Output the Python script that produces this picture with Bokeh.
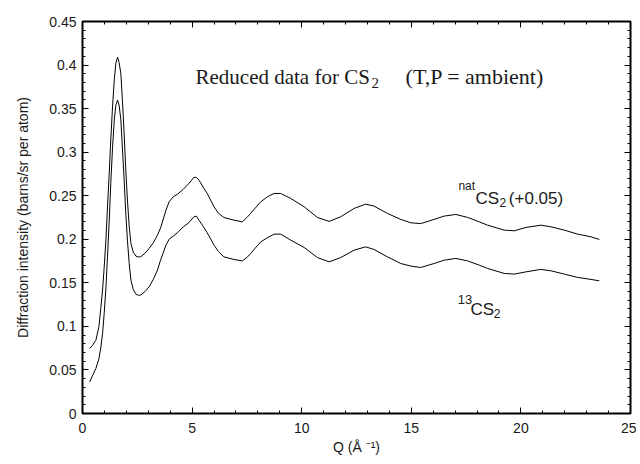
from bokeh.plotting import figure
from bokeh.models import (Range1d, SingleIntervalTicker, LinearAxis, Label,
                          CustomJSTickFormatter, CustomLabelingPolicy)
from bokeh.embed import file_html
from bokeh.resources import INLINE

# ---- data ----
q = [0.33, 0.45, 0.61, 0.75, 0.84, 0.92, 0.99, 1.07, 1.14, 1.22, 1.29, 1.37,
     1.45, 1.52, 1.60, 1.67, 1.75, 1.82, 1.90, 1.97, 2.05, 2.13, 2.21, 2.32,
     2.44, 2.55, 2.66, 2.85, 3.04, 3.23, 3.42, 3.56, 3.81, 3.95, 4.14, 4.35,
     4.60, 4.85, 5.08, 5.20, 5.31, 5.50, 5.69, 6.00, 6.20, 6.45, 6.91, 7.29,
     7.50, 7.67, 8.13, 8.45, 8.74, 9.04, 9.50, 10.11, 10.72, 11.25, 11.78,
     12.39, 12.92, 13.30, 13.91, 14.52, 14.98, 15.43, 16.04, 16.50, 17.03,
     17.57, 18.10, 18.48, 19.24, 19.70, 20.23, 20.91, 21.37, 21.98, 22.59,
     23.20, 23.58]

nat_cs2 = [0.0746, 0.078, 0.084, 0.100, 0.122, 0.143, 0.168, 0.200, 0.237,
           0.276, 0.314, 0.352, 0.383, 0.402, 0.409, 0.403, 0.390, 0.360,
           0.3215, 0.282, 0.245, 0.215, 0.195, 0.185, 0.1806, 0.1797, 0.1799,
           0.184, 0.1895, 0.196, 0.2047, 0.213, 0.2335, 0.243, 0.2488, 0.252,
           0.2575, 0.264, 0.271, 0.271, 0.268, 0.260, 0.2526, 0.2373, 0.230,
           0.225, 0.222, 0.220, 0.225, 0.2297, 0.243, 0.249, 0.2526, 0.2526,
           0.2469, 0.2373, 0.225, 0.2205, 0.2258, 0.2354, 0.2403, 0.2381,
           0.2297, 0.2228, 0.2189, 0.218, 0.2228, 0.2266, 0.2285, 0.2251,
           0.220, 0.2162, 0.2105, 0.2097, 0.2136, 0.2162, 0.2143, 0.2105,
           0.2059, 0.2028, 0.1998]

c13_cs2 = [0.0363, 0.043, 0.0517, 0.063, 0.0765, 0.093, 0.115, 0.145, 0.180,
           0.222, 0.264, 0.305, 0.337, 0.354, 0.3598, 0.354, 0.337, 0.305,
           0.268, 0.232, 0.199, 0.172, 0.153, 0.142, 0.137, 0.1357, 0.136,
           0.140, 0.1454, 0.154, 0.1646, 0.176, 0.1933, 0.200, 0.2036, 0.208,
           0.2143, 0.219, 0.2258, 0.2265, 0.222, 0.215, 0.2074, 0.1933, 0.186,
           0.1798, 0.1768, 0.1752, 0.179, 0.1837, 0.197, 0.202, 0.2059, 0.2059,
           0.199, 0.1906, 0.179, 0.1741, 0.179, 0.1875, 0.1913, 0.1883, 0.1798,
           0.1722, 0.1692, 0.1676, 0.1722, 0.176, 0.178, 0.1752, 0.1703,
           0.1665, 0.1608, 0.160, 0.1626, 0.1654, 0.1638, 0.160, 0.1562,
           0.1539, 0.1523]

x_tick_interval = 5
y_tick_interval = 0.05

SANS = "Liberation Sans"
SERIF = "Liberation Serif"
INK = "#1a1a1a"

p = figure(width=636, height=460,
           x_range=Range1d(0, 25), y_range=Range1d(0, 0.45),
           output_backend="svg", toolbar_location=None,
           min_border_left=82, min_border_right=6,
           min_border_top=21, min_border_bottom=47,
           x_axis_label="Q (Å ⁻¹)",
           y_axis_label="Diffraction intensity (barns/sr per atom)")

p.xgrid.visible = False
p.ygrid.visible = False
p.outline_line_color = "black"
p.outline_line_width = 2
p.background_fill_color = "white"
p.border_fill_color = "white"

xt = SingleIntervalTicker(interval=x_tick_interval, num_minor_ticks=5)
yt = SingleIntervalTicker(interval=y_tick_interval, num_minor_ticks=5)
yfmt = CustomJSTickFormatter(code="""
    let s = tick.toFixed(2);
    s = s.replace(/0+$/, '').replace(/\\.$/, '');
    return s;
""")
no_labels = CustomLabelingPolicy(code="""
    const n = indices.size;
    for (let i = 0; i < n; i++) { indices.unset(i); }
    return indices;
""")

def style(ax, labels=True):
    ax.axis_line_color = None
    ax.major_tick_in = 6
    ax.major_tick_out = 0
    ax.minor_tick_in = 3
    ax.minor_tick_out = 0
    ax.major_tick_line_color = "black"
    ax.minor_tick_line_color = "black"
    ax.major_tick_line_width = 1
    ax.minor_tick_line_width = 1
    if labels:
        ax.major_label_text_font = SANS
        ax.major_label_text_font_size = "14px"
        ax.major_label_text_color = INK
        ax.axis_label_text_font = SANS
        ax.axis_label_text_font_size = "14px"
        ax.axis_label_text_font_style = "normal"
        ax.axis_label_text_color = INK
    else:
        ax.major_label_text_font_size = "0px"
        ax.major_label_standoff = 0
        ax.major_label_policy = no_labels

xa = p.xaxis[0]
xa.ticker = xt
style(xa)
xa.major_label_standoff = 9
xa.axis_label_standoff = 3

ya = p.yaxis[0]
ya.ticker = yt
ya.formatter = yfmt
style(ya)
ya.major_label_standoff = 6
ya.axis_label_standoff = 15

top = LinearAxis(ticker=SingleIntervalTicker(interval=x_tick_interval, num_minor_ticks=5))
style(top, labels=False)
p.add_layout(top, "above")
right = LinearAxis(ticker=SingleIntervalTicker(interval=y_tick_interval, num_minor_ticks=5))
style(right, labels=False)
p.add_layout(right, "right")

p.line(q, nat_cs2, line_color="black", line_width=1)
p.line(q, c13_cs2, line_color="black", line_width=1)

def lab(x, y, text, font, size):
    p.add_layout(Label(x=x, y=y, text=text, text_font=font,
                       text_font_size=size, text_color=INK,
                       text_align="left", text_baseline="alphabetic"))

# title
lab(5.155, 0.3865, "Reduced data for CS", SERIF, "21px")
lab(13.18, 0.379, "2", SERIF, "15px")
lab(14.74, 0.3865, "(T,P = ambient)", SERIF, "22px")

# nat label
lab(17.15, 0.2615, "nat", SANS, "12px")
lab(17.93, 0.2469, "CS", SANS, "17px")
lab(19.02, 0.2419, "2", SANS, "12px")
lab(19.45, 0.2469, "(+0.05)", SANS, "17px")

# 13 label
lab(17.12, 0.1309, "13", SANS, "13px")
lab(17.70, 0.1198, "CS", SANS, "17px")
lab(18.76, 0.1150, "2", SANS, "12px")

open("out.html", "w").write(file_html(p, INLINE))
